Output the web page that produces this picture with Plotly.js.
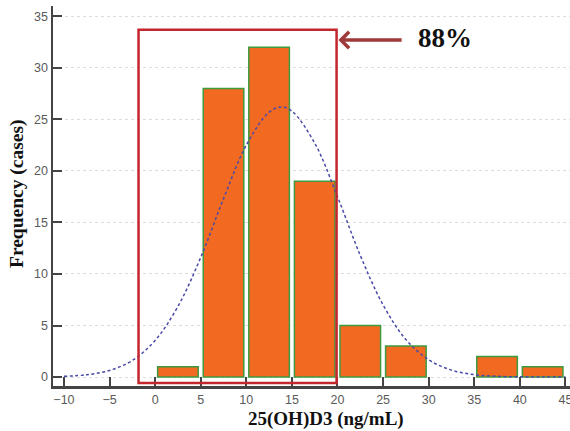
<!DOCTYPE html>
<html>
<head>
<meta charset="utf-8">
<script src="https://cdn.plot.ly/plotly-3.0.1.min.js"></script>
<style>html,body{margin:0;padding:0;background:#fff;}#chart{width:570px;height:431px;}</style>
</head>
<body>
<div id="chart"></div>
<script>
// Histogram bins (centers, ng/mL) and frequencies
const binCenters = [2.5, 7.5, 12.5, 17.5, 22.5, 27.5, 32.5, 37.5, 42.5];
const frequencies = [1, 28, 32, 19, 5, 3, 0, 2, 1];

// Fitted normal curve
const curveX = [-10, -7.5, -5, -2.5, 0, 2.5, 5, 7.5, 10, 12.5, 13.8, 15, 17.5, 20, 22.5, 25, 27.5, 30, 32.5, 35, 37.5, 40, 42.5, 45];
const curveY = [0.07, 0.22, 0.64, 1.61, 3.55, 6.85, 11.6, 17.3, 22.5, 25.7, 26.2, 25.8, 22.7, 17.5, 11.8, 7.0, 3.64, 1.67, 0.67, 0.23, 0.07, 0.02, 0.01, 0.0];

// Highlight box and label
const boxX = [-1.82, 19.9];
const boxY = [-0.58, 33.7];
const labelText = '88%';

const xTicks = [-10, -5, 0, 5, 10, 15, 20, 25, 30, 35, 40, 45];
const yTicks = [0, 5, 10, 15, 20, 25, 30, 35];

const traces = [
  {
    type: 'bar',
    x: binCenters,
    y: frequencies,
    width: 4.45,
    marker: {
      color: '#f26a21',
      line: {color: '#3e9a3e', width: frequencies.map(v => v > 0 ? 1.5 : 0)}
    },
    hoverinfo: 'x+y'
  },
  {
    type: 'scatter',
    mode: 'lines',
    x: curveX,
    y: curveY,
    line: {color: '#4a4aa8', width: 1.5, dash: '3px,2.5px', shape: 'spline'},
    hoverinfo: 'skip'
  }
];

const tickFont = {family: 'Liberation Sans, Arial, sans-serif', size: 12.5, color: '#5a5a5a'};

const layout = {
  width: 570,
  height: 431,
  margin: {l: 53, r: 0, t: 6, b: 45},
  paper_bgcolor: '#ffffff',
  plot_bgcolor: '#ffffff',
  showlegend: false,
  bargap: 0,
  xaxis: {
    range: [-11.2, 45.5],
    tickvals: xTicks,
    ticks: 'inside',
    ticklen: 9,
    tickwidth: 2,
    tickcolor: '#444',
    showline: true,
    linecolor: '#444',
    linewidth: 2.5,
    showgrid: false,
    zeroline: false,
    ticklabeloverflow: 'allow',
    tickfont: tickFont
  },
  yaxis: {
    range: [-0.87, 36.0],
    tickvals: yTicks,
    ticks: 'inside',
    ticklen: 9,
    tickwidth: 2,
    tickcolor: '#444',
    showline: true,
    linecolor: '#444',
    linewidth: 2.5,
    showgrid: true,
    gridcolor: '#dcdcdc',
    griddash: 'dot',
    gridwidth: 1,
    zeroline: false,
    tickfont: tickFont
  },
  shapes: [
    {
      type: 'rect', xref: 'x', yref: 'y',
      x0: boxX[0], x1: boxX[1], y0: boxY[0], y1: boxY[1],
      line: {color: '#c4262d', width: 2.5},
      fillcolor: 'rgba(0,0,0,0)'
    }
  ],
  annotations: [
    {
      xref: 'x', yref: 'y', axref: 'x', ayref: 'y',
      x: 20.1, y: 32.7, ax: 27.2, ay: 32.7,
      text: '', showarrow: true,
      arrowhead: 4, arrowsize: 0.9, arrowwidth: 3.5, arrowcolor: '#9e3a3a'
    },
    {
      xref: 'x', yref: 'y',
      x: 31.8, y: 32.9,
      text: '<b>' + labelText + '</b>', showarrow: false,
      font: {family: 'Liberation Serif, Times New Roman, serif', size: 27, color: '#111'}
    },
    {
      xref: 'paper', yref: 'paper',
      x: (326 - 53) / 517, y: -(419 - 386) / 380,
      xanchor: 'center', yanchor: 'middle',
      text: '<b>25(OH)D3 (ng/mL)</b>', showarrow: false,
      font: {family: 'Liberation Serif, Times New Roman, serif', size: 19, color: '#111'}
    },
    {
      xref: 'paper', yref: 'paper',
      x: -(53 - 17) / 517, y: (386 - 194) / 380,
      xanchor: 'center', yanchor: 'middle',
      textangle: -90,
      text: '<b>Frequency (cases)</b>', showarrow: false,
      font: {family: 'Liberation Serif, Times New Roman, serif', size: 19.5, color: '#111'}
    }
  ]
};

Plotly.newPlot('chart', traces, layout, {staticPlot: true, displayModeBar: false});
</script>
</body>
</html>
